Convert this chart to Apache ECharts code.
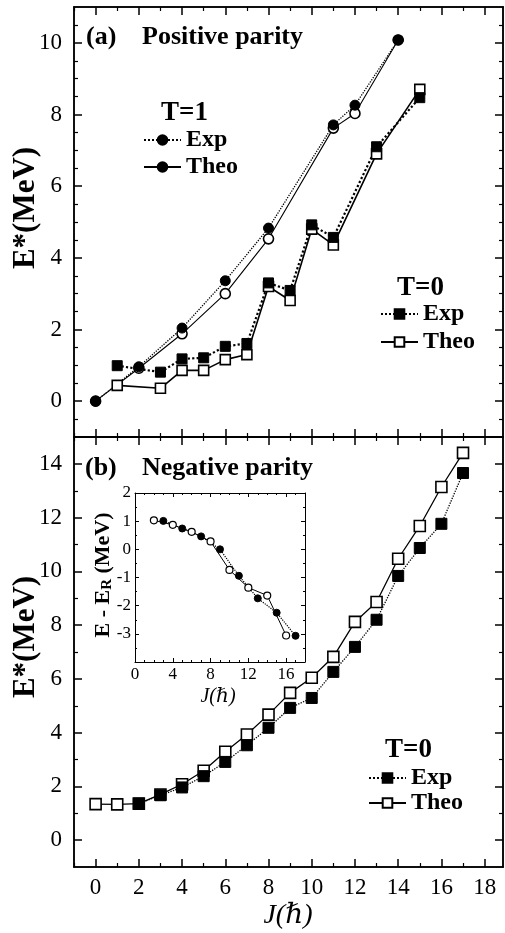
<!DOCTYPE html>
<html><head><meta charset="utf-8">
<script src="https://cdn.jsdelivr.net/npm/echarts@6/dist/echarts.min.js"></script>
<style>html,body{margin:0;padding:0;background:#fff}#c{width:505px;height:933px}</style>
</head><body><div id="c"></div>
<script>
// ---- Data ----
// (a) Positive parity
const J_T1 = [0, 2, 4, 6, 8, 11, 12, 14];
const T1_exp = [0, 0.96, 2.04, 3.36, 4.83, 7.71, 8.26, 10.08];
const T1_theo = [0, 0.92, 1.88, 3.00, 4.53, 7.62, 8.03, 10.08];
const J_T0a = [1, 3, 4, 5, 6, 7, 8, 9, 10, 11, 13, 15];
const T0a_exp = [0.99, 0.81, 1.18, 1.21, 1.53, 1.61, 3.30, 3.09, 4.92, 4.57, 7.10, 8.47];
const T0a_theo = [0.44, 0.36, 0.86, 0.86, 1.16, 1.30, 3.20, 2.81, 4.80, 4.36, 6.90, 8.70];
// (b) Negative parity
const J_neg_theo = [0, 1, 2, 3, 4, 5, 6, 7, 8, 9, 10, 11, 12, 13, 14, 15, 16, 17];
const neg_theo = [1.34, 1.33, 1.36, 1.70, 2.08, 2.58, 3.29, 3.93, 4.67, 5.48, 6.04, 6.82, 8.12, 8.86, 10.47, 11.69, 13.14, 14.41];
const J_neg_exp = [2, 3, 4, 5, 6, 7, 8, 9, 10, 11, 12, 13, 14, 15, 16, 17];
const neg_exp = [1.36, 1.67, 1.96, 2.38, 2.91, 3.53, 4.18, 4.92, 5.29, 6.26, 7.19, 8.20, 9.83, 10.87, 11.77, 13.66];
// Inset: E - E_R
const J_inset_even = [2, 4, 6, 8, 10, 12, 14, 16];
const inset_even = [1.03, 0.87, 0.62, 0.28, -0.73, -1.36, -1.64, -3.06];
const J_inset_odd = [3, 5, 7, 9, 11, 13, 15, 17];
const inset_odd = [1.01, 0.74, 0.46, 0.00, -0.94, -1.74, -2.25, -3.07];
// Tick positions
const xMajor = [0, 2, 4, 6, 8, 10, 12, 14, 16, 18];
const xMinor = [-1, 1, 3, 5, 7, 9, 11, 13, 15, 17];
const yMajorA = [0, 2, 4, 6, 8, 10];
const yMinorA = [-0.5, 0.5, 1, 1.5, 2.5, 3, 3.5, 4.5, 5, 5.5, 6.5, 7, 7.5, 8.5, 9, 9.5, 10.5];
const yMajorB = [0, 2, 4, 6, 8, 10, 12, 14];
const yMinorB = [1, 3, 5, 7, 9, 11, 13];

const pair = (xs, ys) => xs.map((x, i) => [x, ys[i]]);
const SERIF = "'Liberation Serif','Times New Roman','DejaVu Serif',serif";
const AX = {lineStyle: {color: '#000', width: 1.5}, onZero: false};

const xAxes = [], yAxes = [];
function xPair(grid, pos, labels) {
  const base = {type: 'value', gridIndex: grid, position: pos, min: -1, max: 18.85, interval: 1,
    axisLine: AX, splitLine: {show: false}};
  xAxes.push(Object.assign({}, base, {
    axisTick: {inside: true, length: 8, customValues: xMajor, lineStyle: {color: '#000', width: 1.5}},
    axisLabel: labels ? {show: true, customValues: xMajor, margin: 9, color: '#000', fontFamily: SERIF, fontSize: 23,
      formatter: v => (v % 2 === 0 ? String(v) : '')} : {show: false}
  }));
  xAxes.push(Object.assign({}, base, {
    axisTick: {inside: true, length: 4, customValues: xMinor, lineStyle: {color: '#000', width: 1.2}},
    axisLabel: {show: false}
  }));
}
function yPair(grid, pos, min, max, major, minor, labels) {
  const base = {type: 'value', gridIndex: grid, position: pos, min: min, max: max, interval: 1,
    axisLine: AX, splitLine: {show: false}};
  yAxes.push(Object.assign({}, base, {
    axisTick: {inside: true, length: 8, customValues: major, lineStyle: {color: '#000', width: 1.5}},
    axisLabel: labels ? {show: true, customValues: major, margin: 12, color: '#000', fontFamily: SERIF, fontSize: 23,
      formatter: v => (v % 2 === 0 ? String(v) : '')} : {show: false}
  }));
  yAxes.push(Object.assign({}, base, {
    axisTick: {inside: true, length: 4, customValues: minor, lineStyle: {color: '#000', width: 1.2}},
    axisLabel: {show: false}
  }));
}
// grid 0 (top)
xPair(0, 'bottom', false); xPair(0, 'top', false);
yPair(0, 'left', -1, 11, yMajorA, yMinorA, true); yPair(0, 'right', -1, 11, yMajorA, yMinorA, false);
// grid 1 (bottom)
xPair(1, 'bottom', true); xPair(1, 'top', false);
yPair(1, 'left', -1, 15, yMajorB, yMinorB, true); yPair(1, 'right', -1, 15, yMajorB, yMinorB, false);
// grid 2 (inset) : x axes index 8,9 ; y axes 8,9
const insetAx = {lineStyle: {color: '#000', width: 1}, onZero: false};
xAxes.push({type: 'value', gridIndex: 2, position: 'bottom', min: 0, max: 18, interval: 4,
  axisLine: insetAx, splitLine: {show: false},
  axisTick: {inside: true, length: 4, lineStyle: {color: '#000'}},
  minorTick: {show: true, splitNumber: 4, length: 2, lineStyle: {color: '#000'}},
  axisLabel: {color: '#000', fontFamily: SERIF, fontSize: 17, margin: 4, formatter: v => (v <= 16 ? String(v) : '')}});
xAxes.push({type: 'value', gridIndex: 2, position: 'top', min: 0, max: 18, interval: 4,
  axisLine: insetAx, splitLine: {show: false},
  axisTick: {inside: true, length: 4, lineStyle: {color: '#000'}},
  minorTick: {show: true, splitNumber: 4, length: 2, lineStyle: {color: '#000'}},
  axisLabel: {show: false}});
yAxes.push({type: 'value', gridIndex: 2, position: 'left', min: -4, max: 2, interval: 1,
  axisLine: insetAx, splitLine: {show: false},
  axisTick: {inside: true, length: 4, lineStyle: {color: '#000'}},
  minorTick: {show: true, splitNumber: 2, length: 2, lineStyle: {color: '#000'}},
  axisLabel: {color: '#000', fontFamily: SERIF, fontSize: 17, margin: 4, formatter: v => (v > -4 ? String(v) : '')}});
yAxes.push({type: 'value', gridIndex: 2, position: 'right', min: -4, max: 2, interval: 1,
  axisLine: insetAx, splitLine: {show: false},
  axisTick: {inside: true, length: 4, lineStyle: {color: '#000'}},
  minorTick: {show: true, splitNumber: 2, length: 2, lineStyle: {color: '#000'}},
  axisLabel: {show: false}});

const FILLED = {color: '#000', borderColor: '#000', borderWidth: 1};
const OPEN = {color: '#fff', borderColor: '#000', borderWidth: 1.6};
function ser(name, xi, yi, data, symbol, size, item, lineType, lineWidth) {
  return {name: name, type: 'line', xAxisIndex: xi, yAxisIndex: yi, data: data,
    symbol: symbol, symbolSize: size, itemStyle: item, showSymbol: true,
    lineStyle: {color: '#000', type: lineType, width: lineWidth}, animation: false, silent: true};
}
const series = [
  ser('T=1 Theo', 0, 0, pair(J_T1, T1_theo), 'circle', 10, OPEN, 'solid', 1.1),
  ser('T=1 Exp', 0, 0, pair(J_T1, T1_exp), 'circle', 10, FILLED, 'dotted', 1.3),
  ser('T=0 Theo a', 0, 0, pair(J_T0a, T0a_theo), 'rect', 10, OPEN, 'solid', 1.6),
  ser('T=0 Exp a', 0, 0, pair(J_T0a, T0a_exp), 'rect', 10, FILLED, 'dotted', 2.2),
  ser('T=0 Theo b', 4, 4, pair(J_neg_theo, neg_theo), 'rect', 11, OPEN, 'solid', 1.3),
  ser('T=0 Exp b', 4, 4, pair(J_neg_exp, neg_exp), 'rect', 11, FILLED, 'dotted', 1.3),
  ser('Inset even', 8, 8, pair(J_inset_even, inset_even), 'circle', 7, {color: '#fff', borderColor: '#000', borderWidth: 1.2}, 'solid', 1),
  ser('Inset odd', 8, 8, pair(J_inset_odd, inset_odd), 'circle', 7, FILLED, 'dotted', 1.2)
];

const legTxt = {fontFamily: SERIF, fontWeight: 'bold', fontSize: 24, color: '#000', lineHeight: 24};
function leg(name, left, cy, item) {
  const d = {name: name};
  if (item) d.itemStyle = item;
  return {data: [d], left: left, top: cy - 12, padding: 0, itemWidth: 37, itemHeight: 12, itemGap: 0,
    selectedMode: false, textStyle: legTxt, formatter: n => (n.indexOf('Exp') >= 0 ? 'Exp' : 'Theo')};
}
const legends = [
  leg('T=1 Exp', 143, 140),
  leg('T=1 Theo', 143, 167, {color: '#000', borderColor: '#000'}),
  leg('T=0 Exp a', 380, 314),
  leg('T=0 Theo a', 380, 342),
  leg('T=0 Exp b', 368, 778),
  leg('T=0 Theo b', 368, 803)
];

function txt(x, y, s, size, extra) {
  return Object.assign({type: 'text', x: x, y: y, silent: true,
    style: Object.assign({text: s, fontFamily: SERIF, fontWeight: 'bold', fontSize: size, fill: '#000',
      align: 'left', verticalAlign: 'middle'}, extra || {})}, {});
}
const graphic = [
  txt(86, 37, '(a)', 26),
  txt(142, 37, 'Positive parity', 26),
  txt(161, 113, 'T=1', 27),
  txt(397, 288, 'T=0', 27),
  txt(85, 468, '(b)', 26),
  txt(142, 468, 'Negative parity', 26),
  txt(385, 750, 'T=0', 27),
  {type: 'text', x: 26, y: 208, rotation: Math.PI / 2, silent: true,
    style: {text: 'E*(MeV)', fontFamily: SERIF, fontWeight: 'bold', fontSize: 31, fill: '#000', align: 'center', verticalAlign: 'middle'}},
  {type: 'text', x: 26, y: 637, rotation: Math.PI / 2, silent: true,
    style: {text: 'E*(MeV)', fontFamily: SERIF, fontWeight: 'bold', fontSize: 31, fill: '#000', align: 'center', verticalAlign: 'middle'}},
  {type: 'text', x: 288, y: 916, silent: true,
    style: {text: 'J(ℏ)', fontFamily: SERIF, fontStyle: 'italic', fontSize: 28, fill: '#000', align: 'center', verticalAlign: 'middle'}},
  {type: 'text', x: 218, y: 697, silent: true,
    style: {text: 'J(ℏ)', fontFamily: SERIF, fontStyle: 'italic', fontSize: 20, fill: '#000', align: 'center', verticalAlign: 'middle'}},
  {type: 'text', x: 103, y: 575, rotation: Math.PI / 2, silent: true,
    style: {text: 'E - E{s|R} (MeV)', fontFamily: SERIF, fontWeight: 'bold', fontSize: 22, fill: '#000', align: 'center', verticalAlign: 'middle',
      rich: {s: {fontFamily: SERIF, fontWeight: 'bold', fontSize: 15, verticalAlign: 'bottom', padding: [9, 0, 0, 0]}}}}
];

const chart = echarts.init(document.getElementById('c'), null, {renderer: 'canvas'});
chart.setOption({
  backgroundColor: '#fff',
  animation: false,
  grid: [
    {left: 74, top: 7, width: 429, height: 430},
    {left: 74, top: 437, width: 429, height: 430},
    {left: 135, top: 493, width: 170, height: 169}
  ],
  xAxis: xAxes,
  yAxis: yAxes,
  legend: legends,
  series: series,
  graphic: graphic
});
</script>
</body></html>
